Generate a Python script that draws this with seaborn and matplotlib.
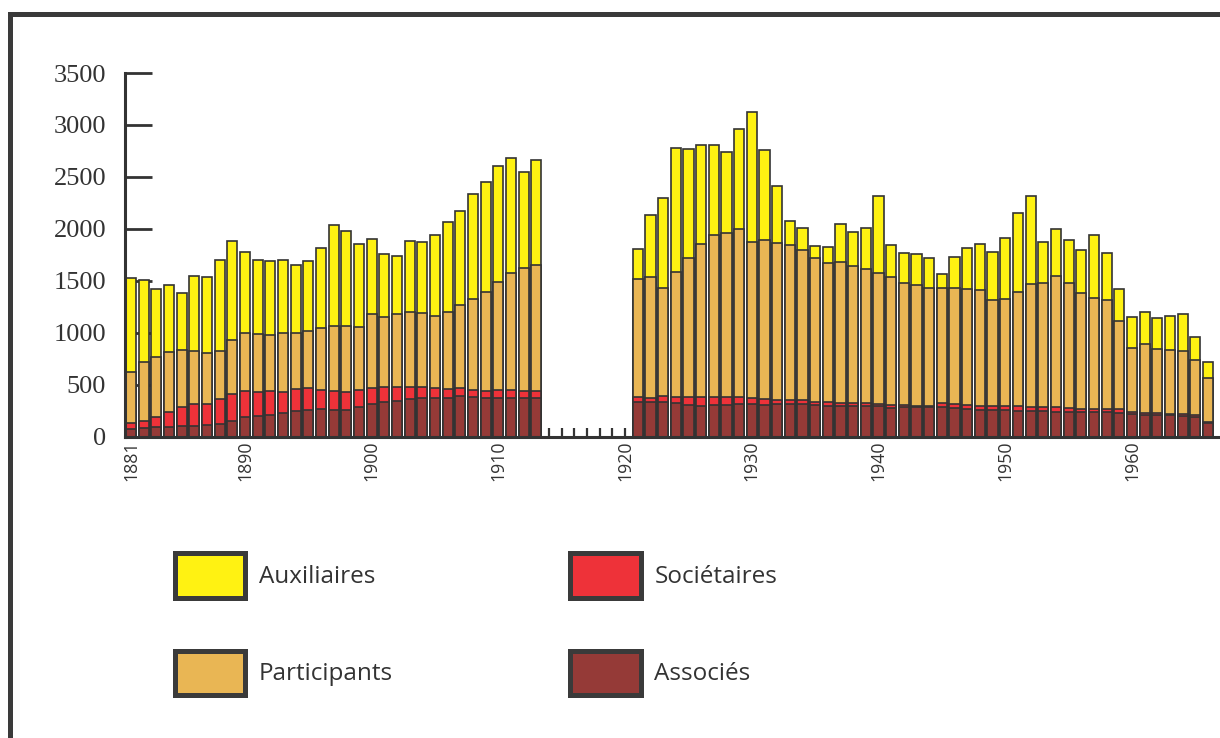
import numpy as np
import pandas as pd
import matplotlib.pyplot as plt
import matplotlib.patches as mpatches
import seaborn as sns

# =========================
# Data (headcount per year)
# =========================
years_a = list(range(1881, 1914))
years_b = list(range(1921, 1967))
years = years_a + years_b

associes = [69, 78, 88, 88, 98, 104, 107, 117, 146, 184, 194, 207, 223, 248, 258, 261, 252,
            252, 287, 312, 332, 341, 364, 373, 375, 370, 386, 380, 370, 370, 375, 370, 370,
            335, 328, 328, 319, 300, 290, 300, 306, 309, 309, 306, 312, 312, 312, 300, 290,
            293, 293, 293, 296, 277, 284, 284, 280, 287, 271, 268, 258, 255, 255, 250, 248,
            245, 240, 236, 232, 232, 239, 226, 213, 204, 204, 204, 197, 191, 127]
societaires = [58, 68, 99, 144, 182, 205, 205, 247, 259, 250, 231, 227, 208, 209, 205, 189, 189,
               179, 163, 154, 144, 135, 115, 106, 95, 90, 77, 67, 67, 77, 72, 67, 70,
               42, 42, 58, 61, 80, 90, 80, 74, 68, 58, 51, 42, 39, 36, 32, 38,
               29, 32, 29, 15, 23, 22, 12, 16, 38, 41, 38, 38, 41, 41, 43, 37,
               40, 45, 41, 36, 29, 25, 35, 26, 22, 19, 12, 16, 13, 9]
participants = [490, 570, 581, 577, 552, 513, 494, 461, 523, 561, 561, 542, 567, 535, 555, 596, 625,
                635, 606, 712, 676, 708, 715, 711, 695, 740, 805, 875, 959, 1042, 1131, 1190, 1209,
                1141, 1164, 1045, 1205, 1343, 1471, 1561, 1577, 1621, 1503, 1536, 1507, 1493, 1452, 1387, 1343,
                1359, 1314, 1292, 1267, 1240, 1170, 1161, 1135, 1103, 1119, 1119, 1116, 1016, 1029, 1100, 1188,
                1194, 1265, 1205, 1115, 1074, 1048, 850, 615, 663, 622, 619, 612, 535, 423]
auxiliaires = [910, 795, 653, 651, 548, 724, 734, 872, 958, 779, 711, 715, 705, 663, 676, 770, 974,
               910, 795, 727, 609, 551, 692, 687, 772, 869, 903, 1016, 1051, 1112, 1100, 919, 1016,
               285, 596, 869, 1195, 1041, 955, 865, 779, 959, 1250, 862, 551, 231, 211, 116, 154,
               369, 330, 397, 741, 304, 288, 298, 292, 138, 295, 391, 442, 468, 584, 759, 846,
               391, 445, 407, 410, 602, 452, 307, 298, 305, 298, 327, 350, 221, 161]

series_names = ["Auxiliaires", "Participants", "Sociétaires", "Associés"]
colors = {"Auxiliaires": "#fff212", "Participants": "#e9b654",
          "Sociétaires": "#ee3239", "Associés": "#953a37"}
label_years = [1881, 1890, 1900, 1910, 1920, 1930, 1940, 1950, 1960]
y_ticks = [0, 500, 1000, 1500, 2000, 2500, 3000, 3500]

df = pd.DataFrame({"year": years, "Associés": associes, "Sociétaires": societaires,
                   "Participants": participants, "Auxiliaires": auxiliaires})
# cumulative tops for stacking (bottom -> top)
df["top_ass"] = df["Associés"]
df["top_soc"] = df["top_ass"] + df["Sociétaires"]
df["top_part"] = df["top_soc"] + df["Participants"]
df["top_aux"] = df["top_part"] + df["Auxiliaires"]

# =========================
# Figure
# =========================
sns.set_theme(style="white")
plt.rcParams["font.family"] = ["Open Sans", "DejaVu Sans"]

W, H = 1220, 738
fig = plt.figure(figsize=(W / 100, H / 100), dpi=100)
ax = fig.add_axes([125 / W, 1 - 436.5 / H, 1 - 125 / W, (436.5 - 73) / H])

edge = "#333333"
for col, name in [("top_aux", "Auxiliaires"), ("top_part", "Participants"),
                  ("top_soc", "Sociétaires"), ("top_ass", "Associés")]:
    sns.barplot(data=df, x="year", y=col, native_scale=True, color=colors[name],
                saturation=1, width=0.8, edgecolor=edge, linewidth=1.2,
                errorbar=None, ax=ax)

ax.set(xlabel="", ylabel="")
ax.set_xlim(1880.53, 1966.95)
ax.set_ylim(0, 3500)
ax.set_axisbelow(True)

all_years = list(range(1881, 1967))
ax.set_xticks(all_years, labels=[str(y) if y in label_years else "" for y in all_years])
ax.set_yticks(y_ticks, labels=[str(v) for v in y_ticks],
              fontfamily="Liberation Serif", fontsize=19, color="#333333")
ax.tick_params(axis="x", bottom=True, direction="in", length=6.5, width=1.6, color=edge,
               pad=3, labelsize=12.8, labelcolor="#333333", labelrotation=90)
ax.tick_params(axis="y", left=True, direction="in", length=19.5, width=2.0, color=edge,
               pad=13.5)
for lab in ax.get_yticklabels():
    lab.set_fontfamily("Liberation Serif")

for s in ["top", "right"]:
    ax.spines[s].set_visible(False)
for s in ["left", "bottom"]:
    ax.spines[s].set_color(edge)
    ax.spines[s].set_linewidth(2.2)

# legend (2 x 2)
handles = [mpatches.Patch(facecolor=colors[n], edgecolor="#3a3a3a", linewidth=3.6, label=n)
           for n in series_names]
fig.legend(handles=handles, ncol=2, loc="upper left",
           bbox_to_anchor=(175 / W, 1 - 553 / H), frameon=False, borderpad=0,
           fontsize=17.5, labelcolor="#333333", handlelength=2.9, handleheight=2.45,
           handletextpad=0.55, labelspacing=2.18, columnspacing=7.3,
           borderaxespad=0)

# outer frame
fig.add_artist(mpatches.Rectangle((9.5 / W, -0.1), 1.2, 1.1 - 14.5 / H,
                                  transform=fig.transFigure, fill=False,
                                  linewidth=3.6, edgecolor="#3a3a3a"))

fig.savefig("out.png", dpi=100)
